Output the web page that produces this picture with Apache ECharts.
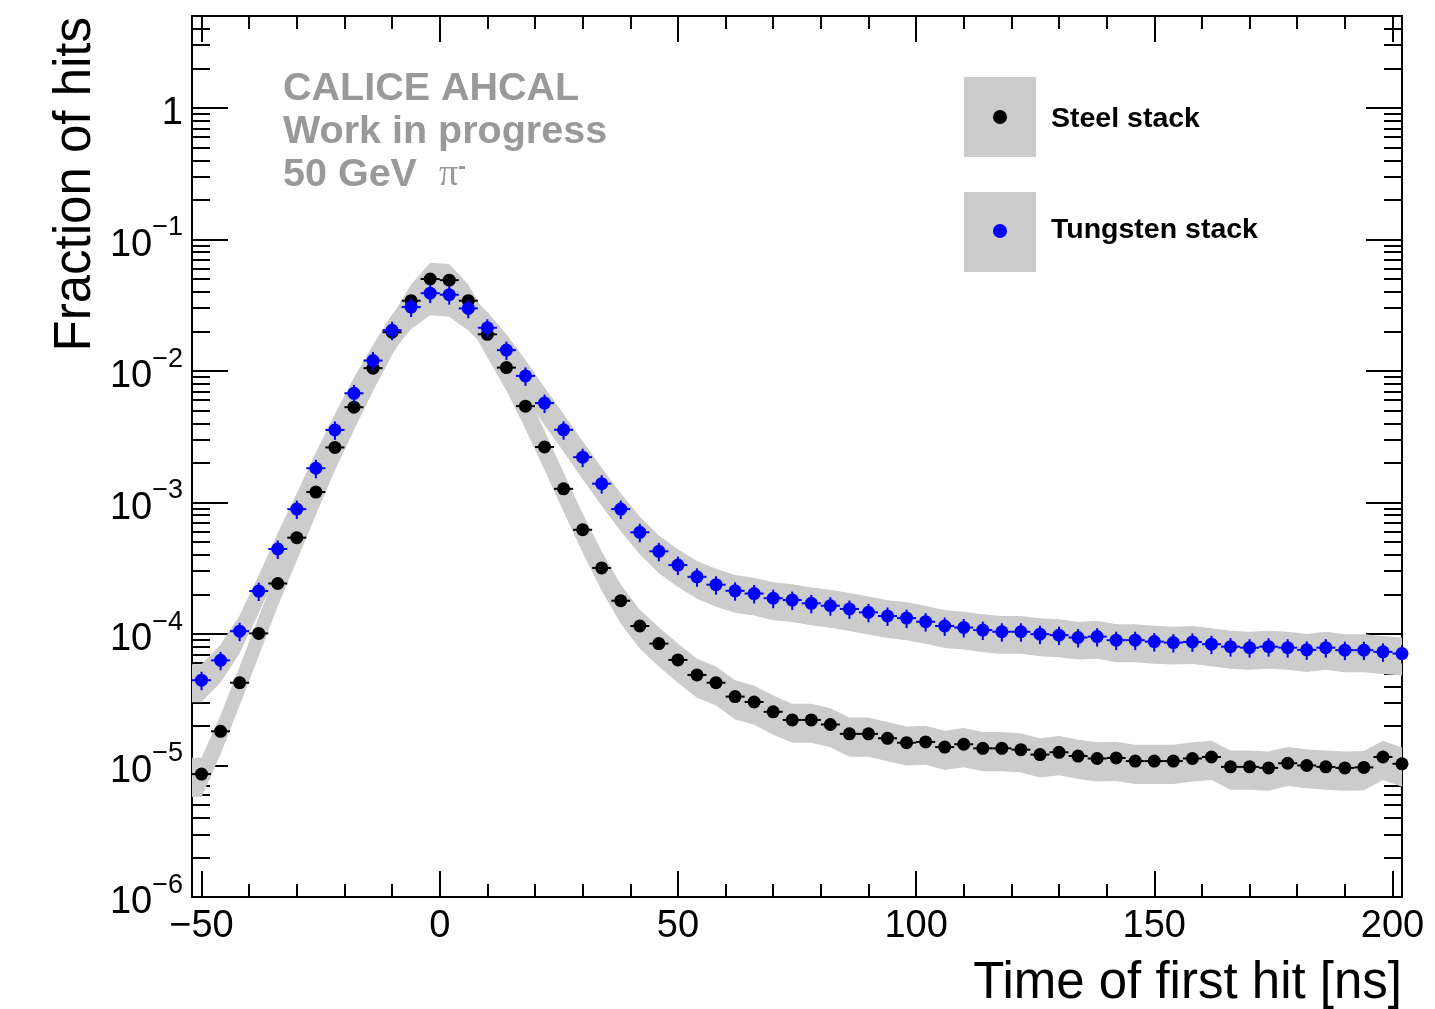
<!DOCTYPE html>
<html>
<head>
<meta charset="utf-8">
<script src="https://cdn.jsdelivr.net/npm/echarts@6/dist/echarts.min.js"></script>
<style>
  html, body { margin: 0; padding: 0; background: #fff; }
  #chart { width: 1435px; height: 1009px; }
</style>
</head>
<body>
<div id="chart"></div>
<script>
// bin centres of the 4 ns time bins
const binCenters = [
  -50, -46, -42, -38, -34, -30, -26, -22, -18, -14, -10, -6, -2, 2, 6, 10,
  14, 18, 22, 26, 30, 34, 38, 42, 46, 50, 54, 58, 62, 66, 70, 74,
  78, 82, 86, 90, 94, 98, 102, 106, 110, 114, 118, 122, 126, 130, 134, 138,
  142, 146, 150, 154, 158, 162, 166, 170, 174, 178, 182, 186, 190, 194, 198, 202
]

// fraction of hits, steel stack
const steel = [
  8.6e-6, 1.82e-5, 4.26e-5, 1.01e-4, 2.42e-4, 5.4e-4, 1.2e-3, 2.62e-3,
  5.3e-3, 1.05e-2, 1.97e-2, 3.42e-2, 5.0e-2, 4.9e-2, 3.42e-2, 1.9e-2,
  1.06e-2, 5.4e-3, 2.64e-3, 1.27e-3, 6.2e-4, 3.18e-4, 1.79e-4, 1.15e-4,
  8.45e-5, 6.35e-5, 4.88e-5, 4.26e-5, 3.34e-5, 3.04e-5, 2.56e-5, 2.22e-5,
  2.22e-5, 2.05e-5, 1.74e-5, 1.74e-5, 1.61e-5, 1.49e-5, 1.51e-5, 1.38e-5,
  1.45e-5, 1.35e-5, 1.35e-5, 1.32e-5, 1.21e-5, 1.26e-5, 1.18e-5, 1.13e-5,
  1.14e-5, 1.08e-5, 1.08e-5, 1.08e-5, 1.13e-5, 1.16e-5, 9.76e-6, 9.76e-6,
  9.59e-6, 1.04e-5, 1.0e-5, 9.76e-6, 9.59e-6, 9.67e-6, 1.16e-5, 1.03e-5
]

// fraction of hits, tungsten stack
const tungsten = [
  4.45e-5, 6.3e-5, 1.05e-4, 2.12e-4, 4.43e-4, 8.9e-4, 1.82e-3, 3.56e-3,
  6.76e-3, 1.2e-2, 2.04e-2, 3.06e-2, 3.9e-2, 3.8e-2, 2.99e-2, 2.13e-2,
  1.44e-2, 9.17e-3, 5.7e-3, 3.57e-3, 2.21e-3, 1.39e-3, 8.9e-4, 5.93e-4,
  4.25e-4, 3.34e-4, 2.72e-4, 2.37e-4, 2.13e-4, 2.03e-4, 1.87e-4, 1.81e-4,
  1.71e-4, 1.64e-4, 1.55e-4, 1.46e-4, 1.37e-4, 1.32e-4, 1.24e-4, 1.15e-4,
  1.12e-4, 1.07e-4, 1.04e-4, 1.04e-4, 9.96e-5, 9.8e-5, 9.4e-5, 9.55e-5,
  8.97e-5, 8.97e-5, 8.75e-5, 8.6e-5, 8.7e-5, 8.36e-5, 8.01e-5, 7.87e-5,
  8.01e-5, 7.87e-5, 7.57e-5, 7.87e-5, 7.53e-5, 7.53e-5, 7.31e-5, 7.1e-5
]

const binHalfWidth = 2
// relative systematic (grey band) and statistical (bar) uncertainties
const sysSteel = 0.33
const sysTungsten = 0.32
const statSteel = 0
const statTungsten = 0.16

const xMin = -52
const xMax = 202
const xMajorTicks = [-50, 0, 50, 100, 150, 200]
const xMinorTicks = [-40, -30, -20, -10, 10, 20, 30, 40, 60, 70, 80, 90,
  110, 120, 130, 140, 160, 170, 180, 190]

const yMin = 1e-6
const yMax = 5
const yDecades = [1e-6, 1e-5, 1e-4, 1e-3, 1e-2, 1e-1, 1]
const yMantissas = [2, 3, 4, 5, 6, 7, 8, 9]
const yMinorTicks = []
yDecades.forEach(d => {
  yMantissas.forEach(m => {
    const v = +(m * d).toPrecision(3)
    if (v <= yMax) yMinorTicks.push(v)
  })
})

const FONT = 'Liberation Sans'
const GREY = '#cccccc'

function fmtX(v) {
  return v < 0 ? '\u2212' + (-v) : String(v)
}

function fmtY(v) {
  const e = Math.round(Math.log10(v))
  if (e === 0) return '{b|1}'
  return '{b|10}{s|' + (e < 0 ? '\u2212' + (-e) : e) + '}'
}

const frame = { show: true, onZero: false, lineStyle: { color: '#000', width: 2 } }
const noLine = { show: false, onZero: false }

function xAxisDef(position, ticks, len, withLine, withLabel) {
  return {
    type: 'value', min: xMin, max: xMax, position,
    axisLine: withLine ? frame : noLine,
    axisTick: { show: true, inside: true, length: len, customValues: ticks,
      lineStyle: { color: '#000', width: 2 } },
    axisLabel: withLabel ? {
      show: true, customValues: ticks, formatter: fmtX, margin: 11,
      fontFamily: FONT, fontSize: 38, color: '#000'
    } : { show: false },
    splitLine: { show: false }
  }
}

function yAxisDef(position, ticks, len, withLine, withLabel) {
  return {
    type: 'log', logBase: 10, min: yMin, max: yMax, position,
    axisLine: withLine ? frame : noLine,
    axisTick: { show: true, inside: true, length: len, customValues: ticks,
      lineStyle: { color: '#000', width: 2 } },
    axisLabel: withLabel ? {
      show: true, customValues: ticks, formatter: fmtY, margin: 9,
      rich: {
        b: { fontFamily: FONT, fontSize: 38, color: '#000', padding: [12, 0, 0, 0] },
        s: { fontFamily: FONT, fontSize: 27, color: '#000', verticalAlign: 'top' }
      }
    } : { show: false },
    splitLine: { show: false }
  }
}

// grey uncertainty band drawn as one polygon through the library scales
function bandSeries(values, rel) {
  return {
    type: 'custom', silent: true, z: 1, clip: true,
    data: [[binCenters[0], values[0]]],
    renderItem(params, api) {
      const upper = [], lower = []
      upper.push(api.coord([xMin, values[0] * (1 + rel)]))
      lower.push(api.coord([xMin, values[0] * (1 - rel)]))
      binCenters.forEach((x, i) => {
        upper.push(api.coord([x, values[i] * (1 + rel)]))
        lower.push(api.coord([x, values[i] * (1 - rel)]))
      })
      return {
        type: 'polygon',
        shape: { points: upper.concat(lower.reverse()) },
        style: { fill: GREY }
      }
    }
  }
}

// bin-width bars and statistical error bars
function errorSeries(values, stat, color, z) {
  return {
    type: 'custom', silent: true, z, clip: true,
    data: binCenters.map((x, i) => [x, values[i]]),
    encode: { x: 0, y: 1 },
    renderItem(params, api) {
      const x = api.value(0), y = api.value(1)
      const l = api.coord([x - binHalfWidth, y])
      const r = api.coord([x + binHalfWidth, y])
      const children = [{
        type: 'line', shape: { x1: l[0], y1: l[1], x2: r[0], y2: r[1] },
        style: { stroke: color, lineWidth: 2 }
      }]
      if (stat > 0) {
        const t = api.coord([x, y * (1 + stat)])
        const b = api.coord([x, y * (1 - stat)])
        children.push({
          type: 'line', shape: { x1: t[0], y1: t[1], x2: b[0], y2: b[1] },
          style: { stroke: color, lineWidth: 2 }
        })
      }
      return { type: 'group', children }
    }
  }
}

function pointSeries(name, values, color, z) {
  return {
    type: 'scatter', name, z,
    data: binCenters.map((x, i) => [x, values[i]]),
    symbol: 'circle', symbolSize: 13,
    itemStyle: { color, opacity: 1 }
  }
}

const option = {
  animation: false,
  backgroundColor: '#fff',
  grid: { left: 192, right: 33, top: 16, bottom: 112, containLabel: false },
  xAxis: [
    xAxisDef('bottom', xMajorTicks, 26, true, true),
    xAxisDef('bottom', xMinorTicks, 13, false, false),
    xAxisDef('top', xMajorTicks, 26, true, false),
    xAxisDef('top', xMinorTicks, 13, false, false)
  ],
  yAxis: [
    yAxisDef('left', yDecades, 36, true, true),
    yAxisDef('left', yMinorTicks, 18, false, false),
    yAxisDef('right', yDecades, 36, true, false),
    yAxisDef('right', yMinorTicks, 18, false, false)
  ],
  series: [
    bandSeries(steel, sysSteel),
    bandSeries(tungsten, sysTungsten),
    errorSeries(steel, statSteel, '#000', 3),
    pointSeries('Steel stack', steel, '#000', 4),
    errorSeries(tungsten, statTungsten, '#0000ff', 5),
    pointSeries('Tungsten stack', tungsten, '#0000ff', 6)
  ],
  graphic: [
    // axis titles
    { type: 'text', x: 1402, y: 958, z: 10,
      style: { text: 'Time of first hit [ns]', font: '51px "Liberation Sans"', fill: '#000',
        align: 'right', verticalAlign: 'top' } },
    { type: 'text', x: 50, y: 17, rotation: Math.PI / 2, z: 10,
      style: { text: 'Fraction of hits', font: '51px "Liberation Sans"', fill: '#000',
        align: 'right', verticalAlign: 'top' } },
    // grey labels
    { type: 'text', x: 283, y: 89, z: 10,
      style: { text: 'CALICE AHCAL', font: 'bold 39.5px "Liberation Sans"', fill: '#999999',
        align: 'left', verticalAlign: 'middle' } },
    { type: 'text', x: 283, y: 132, z: 10,
      style: { text: 'Work in progress', font: 'bold 39.5px "Liberation Sans"', fill: '#999999',
        align: 'left', verticalAlign: 'middle' } },
    { type: 'text', x: 283, y: 175, z: 10,
      style: { text: '50 GeV  {p|\u03c0}{s|-}', font: 'bold 39.5px "Liberation Sans"', fill: '#999999',
        align: 'left', verticalAlign: 'middle',
        rich: {
          p: { fontFamily: 'Liberation Serif', fontSize: 38, fontWeight: 'normal', fill: '#999999' },
          s: { fontFamily: 'Liberation Sans', fontSize: 24, fontWeight: 'bold', fill: '#999999', verticalAlign: 'top' }
        } } },
    // legend
    { type: 'rect', shape: { x: 964, y: 77, width: 72, height: 80 }, style: { fill: GREY }, z: 10 },
    { type: 'circle', shape: { cx: 1000, cy: 117, r: 7 }, style: { fill: '#000' }, z: 11 },
    { type: 'text', x: 1051, y: 119, z: 11,
      style: { text: 'Steel stack', font: 'bold 28.5px "Liberation Sans"', fill: '#000',
        align: 'left', verticalAlign: 'middle' } },
    { type: 'rect', shape: { x: 964, y: 192, width: 72, height: 80 }, style: { fill: GREY }, z: 10 },
    { type: 'circle', shape: { cx: 1000, cy: 231, r: 7 }, style: { fill: '#0000ff' }, z: 11 },
    { type: 'text', x: 1051, y: 230, z: 11,
      style: { text: 'Tungsten stack', font: 'bold 28.5px "Liberation Sans"', fill: '#000',
        align: 'left', verticalAlign: 'middle' } }
  ]
}

const chart = echarts.init(document.getElementById('chart'))
chart.setOption(option)
</script>
</body>
</html>
